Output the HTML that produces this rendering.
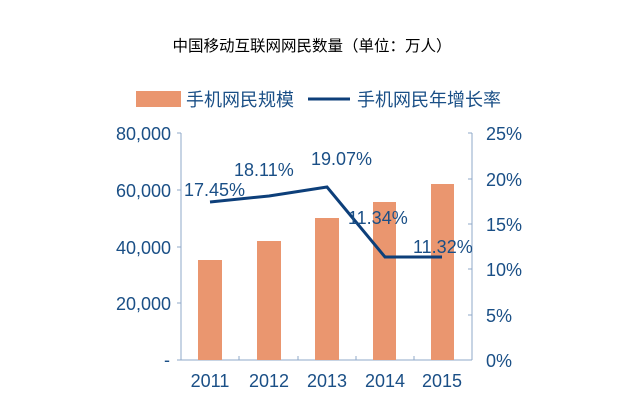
<!DOCTYPE html>
<html><head><meta charset="utf-8"><style>
body{margin:0;background:#fff;}
svg{display:block;}
</style></head><body>
<svg width="631" height="413" xmlns="http://www.w3.org/2000/svg" font-family="'Liberation Sans','Noto Sans CJK SC',sans-serif">
<text x="312" y="51" text-anchor="middle" font-size="15.5" fill="#000" font-family="'WenQuanYi Zen Hei','Noto Sans CJK SC',sans-serif">中国移动互联网网民数量（单位：万人）</text>
<rect x="136" y="91" width="45" height="16" fill="#ea966f"/>
<text x="186" y="106" font-size="18" fill="#1a4f86" font-family="'Noto Sans CJK SC',sans-serif">手机网民规模</text>
<line x1="308" y1="99" x2="350" y2="99" stroke="#0d3f7a" stroke-width="3"/>
<text x="357" y="106" font-size="18" fill="#1a4f86" font-family="'Noto Sans CJK SC',sans-serif">手机网民年增长率</text>
<g stroke="#8fa9c9" stroke-width="1" fill="none">
<line x1="181" y1="133" x2="181" y2="360"/>
<line x1="472" y1="133" x2="472" y2="360"/>
<line x1="181" y1="360" x2="472" y2="360"/>
<line x1="177" y1="133" x2="181" y2="133"/><line x1="177" y1="190" x2="181" y2="190"/><line x1="177" y1="247" x2="181" y2="247"/><line x1="177" y1="303" x2="181" y2="303"/><line x1="177" y1="360" x2="181" y2="360"/>
<line x1="468" y1="133" x2="472" y2="133"/><line x1="468" y1="179" x2="472" y2="179"/><line x1="468" y1="224" x2="472" y2="224"/><line x1="468" y1="269" x2="472" y2="269"/><line x1="468" y1="315" x2="472" y2="315"/>
<line x1="239" y1="360" x2="239" y2="356"/><line x1="298" y1="360" x2="298" y2="356"/><line x1="356" y1="360" x2="356" y2="356"/><line x1="414" y1="360" x2="414" y2="356"/>
</g>
<g fill="#ea966f">
<rect x="198" y="260" width="24" height="100"/>
<rect x="257" y="241" width="24" height="119"/>
<rect x="315" y="218" width="24" height="142"/>
<rect x="373" y="202" width="23" height="158"/>
<rect x="431" y="184" width="23" height="176"/>
</g>
<polyline points="210,202 269,196 327,187 385,257 442,257" fill="none" stroke="#0d3f7a" stroke-width="3"/>
<g font-size="18" fill="#1a4f86">
<text x="171" y="140" text-anchor="end">80,000</text>
<text x="171" y="197" text-anchor="end">60,000</text>
<text x="171" y="254" text-anchor="end">40,000</text>
<text x="171" y="310" text-anchor="end">20,000</text>
<text x="170" y="366" text-anchor="end">-</text>
<text x="486" y="140">25%</text>
<text x="486" y="186">20%</text>
<text x="486" y="231">15%</text>
<text x="486" y="276">10%</text>
<text x="486" y="322">5%</text>
<text x="486" y="367">0%</text>
<text x="210" y="387" text-anchor="middle">2011</text>
<text x="269" y="387" text-anchor="middle">2012</text>
<text x="327" y="387" text-anchor="middle">2013</text>
<text x="385" y="387" text-anchor="middle">2014</text>
<text x="442" y="387" text-anchor="middle">2015</text>
<text x="184" y="196">17.45%</text>
<text x="234" y="176">18.11%</text>
<text x="311" y="165">19.07%</text>
<text x="348" y="224">11.34%</text>
<text x="413" y="253">11.32%</text>
</g>
</svg>
</body></html>
